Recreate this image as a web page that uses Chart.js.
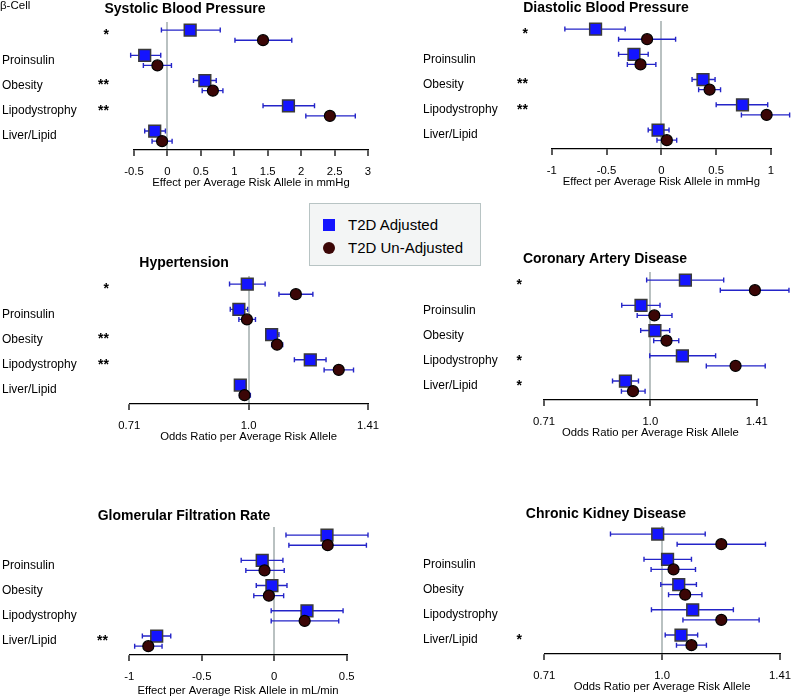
<!DOCTYPE html>
<html lang="en">
<head>
<meta charset="UTF-8">
<title>Effects of T2D risk allele clusters</title>
<script src="https://cdn.jsdelivr.net/npm/chart.js"></script>
<style>
  body { margin: 0; background: #fff; overflow: hidden; font-family: Arial, "Liberation Sans", sans-serif; }
  #wrap { position: relative; width: 800px; height: 699px; }
  canvas { position: absolute; }
  #legend {
    position: absolute; left: 309px; top: 203px; width: 172px; height: 63px;
    box-sizing: border-box; border: 1px solid #b8c4c4; background: #f3f5f5;
    padding: 9px 0 0 13px; font-size: 15px; color: #000;
  }
  .item { display: flex; align-items: center; height: 23px; }
  .sq { width: 12px; height: 12px; background: #1414ff; margin-right: 13px; }
  .dot { width: 12px; height: 12px; border-radius: 50%; background: #3b0606; margin-right: 13px; }
</style>
</head>
<body>
<div id="wrap">
  <canvas id="sbp" width="400" height="195" style="left:0px;top:0px"></canvas>
  <canvas id="dbp" width="379" height="195" style="left:421px;top:-1px"></canvas>
  <canvas id="htn" width="400" height="195" style="left:0px;top:254px"></canvas>
  <canvas id="cad" width="379" height="195" style="left:421px;top:250px"></canvas>
  <canvas id="gfr" width="400" height="198" style="left:0px;top:505px"></canvas>
  <canvas id="ckd" width="379" height="195" style="left:421px;top:504px"></canvas>
  <div id="legend">
    <div class="item"><span class="sq"></span>T2D Adjusted</div>
    <div class="item"><span class="dot"></span>T2D Un-Adjusted</div>
  </div>
</div>

<script>
    const categories = ['β-Cell', 'Proinsulin', 'Obesity', 'Lipodystrophy', 'Liver/Lipid'];

    // Systolic blood pressure (mmHg)
    const sbpAdj     = [0.34, -0.34, 0.56, 1.81, -0.19];
    const sbpAdjLo   = [-0.09, -0.55, 0.39, 1.43, -0.34];
    const sbpAdjHi   = [0.79, -0.10, 0.73, 2.20, -0.03];
    const sbpUnadj   = [1.43, -0.15, 0.68, 2.43, -0.08];
    const sbpUnadjLo = [1.01, -0.36, 0.52, 2.07, -0.23];
    const sbpUnadjHi = [1.86, 0.06, 0.83, 2.81, 0.07];
    const sbpStars   = ['*', '', '**', '**', ''];

    // Diastolic blood pressure (mmHg)
    const dbpAdj     = [-0.60, -0.25, 0.38, 0.74, -0.03];
    const dbpAdjLo   = [-0.88, -0.39, 0.28, 0.50, -0.12];
    const dbpAdjHi   = [-0.33, -0.12, 0.49, 0.97, 0.07];
    const dbpUnadj   = [-0.13, -0.19, 0.44, 0.96, 0.05];
    const dbpUnadjLo = [-0.39, -0.31, 0.34, 0.73, -0.04];
    const dbpUnadjHi = [0.13, -0.05, 0.54, 1.17, 0.14];
    const dbpStars   = ['*', '', '**', '**', ''];

    // Hypertension (odds ratio)
    const htnAdj     = [0.996, 0.972, 1.069, 1.196, 0.976];
    const htnAdjLo   = [0.946, 0.948, 1.056, 1.142, 0.961];
    const htnAdjHi   = [1.049, 0.997, 1.092, 1.252, 0.991];
    const htnUnadj   = [1.147, 0.995, 1.086, 1.299, 0.988];
    const htnUnadjLo = [1.092, 0.972, 1.069, 1.245, 0.974];
    const htnUnadjHi = [1.205, 1.020, 1.104, 1.356, 1.005];
    const htnStars   = ['*', '', '**', '**', ''];

    // Coronary artery disease (odds ratio)
    const cadAdj     = [1.121, 0.970, 1.015, 1.110, 0.922];
    const cadAdjLo   = [0.988, 0.911, 0.969, 0.998, 0.884];
    const cadAdjHi   = [1.270, 1.032, 1.065, 1.237, 0.962];
    const cadUnadj   = [1.406, 1.013, 1.054, 1.320, 0.945];
    const cadUnadjLo = [1.256, 0.958, 1.011, 1.200, 0.910];
    const cadUnadjHi = [1.571, 1.073, 1.097, 1.454, 0.983];
    const cadStars   = ['*', '', '', '*', '*'];

    // Glomerular filtration rate (mL/min)
    const gfrAdj     = [0.364, -0.083, -0.016, 0.226, -0.811];
    const gfrAdjLo   = [0.081, -0.228, -0.124, -0.021, -0.910];
    const gfrAdjHi   = [0.647, 0.060, 0.088, 0.475, -0.714];
    const gfrUnadj   = [0.369, -0.067, -0.037, 0.210, -0.869];
    const gfrUnadjLo = [0.101, -0.196, -0.141, -0.021, -0.963];
    const gfrUnadjHi = [0.636, 0.069, 0.065, 0.445, -0.774];
    const gfrStars   = ['', '', '', '', '**'];

    // Chronic kidney disease (odds ratio)
    const ckdAdj     = [0.987, 1.016, 1.050, 1.094, 1.057];
    const ckdAdjLo   = [0.859, 0.948, 0.996, 0.969, 1.009];
    const ckdAdjHi   = [1.135, 1.090, 1.106, 1.233, 1.110];
    const ckdUnadj   = [1.190, 1.034, 1.070, 1.190, 1.090];
    const ckdUnadjLo = [1.045, 0.968, 1.019, 1.063, 1.043];
    const ckdUnadjHi = [1.355, 1.103, 1.124, 1.330, 1.139];
    const ckdStars   = ['', '', '', '', '*'];

    // x axis ticks
    const sbpTicks = [-0.5, 0, 0.5, 1, 1.5, 2, 2.5, 3];
    const sbpTickLabels = ['-0.5', '0', '0.5', '1', '1.5', '2', '2.5', '3'];
    const dbpTicks = [-1, -0.5, 0, 0.5, 1];
    const dbpTickLabels = ['-1', '-0.5', '0', '0.5', '1'];
    const gfrTicks = [-1, -0.5, 0, 0.5];
    const gfrTickLabels = ['-1', '-0.5', '0', '0.5'];
    const orTicks = [0.7071, 1, 1.4142];
    const orTickLabels = ['0.71', '1.0', '1.41'];

    const FONT = 'Arial, "Liberation Sans", sans-serif';
    Chart.defaults.font.family = FONT;
    Chart.defaults.color = '#000';

    // horizontal confidence intervals with small end caps
    const errorBars = {
        id: 'errorBars',
        beforeDatasetsDraw(chart) {
            const ctx = chart.ctx;
            const xs = chart.scales.x;
            ctx.save();
            ctx.strokeStyle = '#2424c8';
            ctx.lineWidth = 1.4;
            chart.data.datasets.forEach((ds, d) => {
                chart.getDatasetMeta(d).data.forEach((pt, i) => {
                    const x1 = xs.getPixelForValue(ds.lo[i]);
                    const x2 = xs.getPixelForValue(ds.hi[i]);
                    const y = pt.y;
                    ctx.beginPath();
                    ctx.moveTo(x1, y); ctx.lineTo(x2, y);
                    ctx.moveTo(x1, y - 2.5); ctx.lineTo(x1, y + 2.5);
                    ctx.moveTo(x2, y - 2.5); ctx.lineTo(x2, y + 2.5);
                    ctx.stroke();
                });
            });
            ctx.restore();
        }
    };

    // panel title, significance stars and the corner label
    const decor = {
        id: 'decor',
        afterDraw(chart, args, o) {
            const ctx = chart.ctx;
            const ys = chart.scales.y;
            ctx.save();
            ctx.fillStyle = '#000';
            ctx.textBaseline = 'middle';
            ctx.font = 'bold 14px ' + FONT;
            ctx.textAlign = 'center';
            ctx.fillText(o.title, o.titleX, o.titleY);
            ctx.textAlign = 'right';
            o.stars.forEach((s, i) => {
                if (s) ctx.fillText(s, o.starX, ys.getPixelForValue(i));
            });
            if (o.corner) {
                ctx.font = '11.5px ' + FONT;
                ctx.textAlign = 'left';
                ctx.fillText(o.corner, 0, 6);
            }
            ctx.restore();
        }
    };

    function makePanel(id, p) {
        const canvas = document.getElementById(id);
        const cx = parseFloat(canvas.style.left);
        const cw = canvas.width;
        new Chart(canvas, {
            type: 'scatter',
            data: {
                datasets: [
                    {
                        label: 'T2D Un-Adjusted',
                        data: p.unadj.map((v, i) => ({ x: v, y: i + 0.2 })),
                        lo: p.unadjLo, hi: p.unadjHi,
                        pointStyle: 'circle', pointRadius: 5.5,
                        backgroundColor: '#3b0606', borderColor: '#000', borderWidth: 1.2,
                        order: 1, clip: false
                    },
                    {
                        label: 'T2D Adjusted',
                        data: p.adj.map((v, i) => ({ x: v, y: i - 0.2 })),
                        lo: p.adjLo, hi: p.adjHi,
                        pointStyle: 'rect', pointRadius: 8.3,
                        backgroundColor: '#1414ff', borderColor: '#3a3a3a', borderWidth: 1.5,
                        order: 2, clip: false
                    }
                ]
            },
            options: {
                responsive: false,
                animation: false,
                devicePixelRatio: 1,
                events: [],
                layout: { padding: { left: 2, top: 22, right: cw - (p.right - cx), bottom: 0 } },
                scales: {
                    x: {
                        type: p.log ? 'logarithmic' : 'linear',
                        min: p.ticks[0],
                        max: p.ticks[p.ticks.length - 1],
                        afterBuildTicks: s => { s.ticks = p.ticks.map(v => ({ value: v })); },
                        afterFit: s => { s.height = p.axisH; },
                        border: { display: true, color: '#000', width: 1.3 },
                        grid: {
                            drawOnChartArea: true,
                            color: c => (c.tick && c.tick.value === p.ref) ? '#b9c1c1' : 'rgba(0,0,0,0)',
                            lineWidth: 2,
                            tickColor: '#000',
                            tickWidth: 1.3,
                            tickLength: 6
                        },
                        ticks: {
                            autoSkip: false, maxRotation: 0, padding: 9,
                            font: { size: 11.3 },
                            callback: (v, i) => p.tickLabels[i]
                        },
                        title: {
                            display: true, text: p.axisTitle,
                            font: { size: 11.3 }, padding: { top: 0, bottom: 5 }
                        }
                    },
                    y: {
                        type: 'linear', reverse: true, min: -0.52, max: 4.55,
                        afterBuildTicks: s => { s.ticks = categories.map((c, i) => ({ value: i })); },
                        afterFit: s => { s.width = p.left - cx - 2; },
                        grid: { display: false },
                        border: { display: false },
                        ticks: {
                            autoSkip: false, crossAlign: 'far',
                            font: { size: 12 },
                            callback: v => (v === 0 ? '' : categories[v])
                        }
                    }
                },
                plugins: {
                    legend: { display: false },
                    tooltip: { enabled: false },
                    decor: {
                        title: p.title, titleX: p.titleX, titleY: p.titleY,
                        stars: p.stars, starX: p.starX, corner: p.corner || ''
                    }
                }
            },
            plugins: [errorBars, decor]
        });
    }

    makePanel('sbp', {
        title: 'Systolic Blood Pressure', titleX: 185, titleY: 9, corner: categories[0],
        adj: sbpAdj, adjLo: sbpAdjLo, adjHi: sbpAdjHi,
        unadj: sbpUnadj, unadjLo: sbpUnadjLo, unadjHi: sbpUnadjHi,
        stars: sbpStars, starX: 109,
        ticks: sbpTicks, tickLabels: sbpTickLabels, ref: 0, log: false,
        axisTitle: 'Effect per Average Risk Allele in mmHg',
        left: 134, right: 368, axisH: 45
    });
    makePanel('dbp', {
        title: 'Diastolic Blood Pressure', titleX: 185, titleY: 9,
        adj: dbpAdj, adjLo: dbpAdjLo, adjHi: dbpAdjHi,
        unadj: dbpUnadj, unadjLo: dbpUnadjLo, unadjHi: dbpUnadjHi,
        stars: dbpStars, starX: 107,
        ticks: dbpTicks, tickLabels: dbpTickLabels, ref: 0, log: false,
        axisTitle: 'Effect per Average Risk Allele in mmHg',
        left: 551.7, right: 771, axisH: 45
    });
    makePanel('htn', {
        title: 'Hypertension', titleX: 184, titleY: 9.5,
        adj: htnAdj, adjLo: htnAdjLo, adjHi: htnAdjHi,
        unadj: htnUnadj, unadjLo: htnUnadjLo, unadjHi: htnUnadjHi,
        stars: htnStars, starX: 109,
        ticks: orTicks, tickLabels: orTickLabels, ref: 1, log: true,
        axisTitle: 'Odds Ratio per Average Risk Allele',
        left: 129.3, right: 368, axisH: 45
    });
    makePanel('cad', {
        title: 'Coronary Artery Disease', titleX: 184, titleY: 9.5,
        adj: cadAdj, adjLo: cadAdjLo, adjHi: cadAdjHi,
        unadj: cadUnadj, unadjLo: cadUnadjLo, unadjHi: cadUnadjHi,
        stars: cadStars, starX: 101,
        ticks: orTicks, tickLabels: orTickLabels, ref: 1, log: true,
        axisTitle: 'Odds Ratio per Average Risk Allele',
        left: 544, right: 756.7, axisH: 45
    });
    makePanel('gfr', {
        title: 'Glomerular Filtration Rate', titleX: 184, titleY: 11.5,
        adj: gfrAdj, adjLo: gfrAdjLo, adjHi: gfrAdjHi,
        unadj: gfrUnadj, unadjLo: gfrUnadjLo, unadjHi: gfrUnadjHi,
        stars: gfrStars, starX: 108,
        ticks: gfrTicks, tickLabels: gfrTickLabels, ref: 0, log: false,
        axisTitle: 'Effect per Average Risk Allele in mL/min',
        left: 129.3, right: 346.7, axisH: 48
    });
    makePanel('ckd', {
        title: 'Chronic Kidney Disease', titleX: 185, titleY: 10.5,
        adj: ckdAdj, adjLo: ckdAdjLo, adjHi: ckdAdjHi,
        unadj: ckdUnadj, unadjLo: ckdUnadjLo, unadjHi: ckdUnadjHi,
        stars: ckdStars, starX: 101,
        ticks: orTicks, tickLabels: orTickLabels, ref: 1, log: true,
        axisTitle: 'Odds Ratio per Average Risk Allele',
        left: 544.3, right: 789.3, axisH: 45
    });
</script>
</body>
</html>
